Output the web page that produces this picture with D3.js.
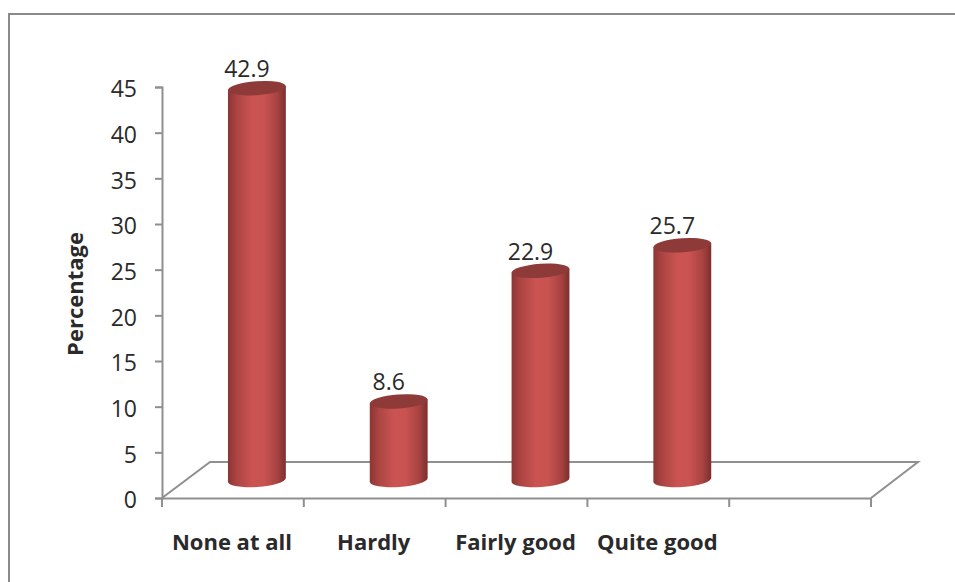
<!DOCTYPE html>
<html>
<head>
<meta charset="utf-8">
<script src="https://cdnjs.cloudflare.com/ajax/libs/d3/7.8.5/d3.min.js"></script>
<style>
  html, body { margin: 0; background: #fff; }
  svg { display: block; }
  text { font-family: "Open Sans", sans-serif; fill: #2a2a2a; }
</style>
</head>
<body>
<div id="chart"></div>
<script>
const categories = ["None at all", "Hardly", "Fairly good", "Quite good", ""];
const values = [42.9, 8.6, 22.9, 25.7];
const yTicks = [0, 5, 10, 15, 20, 25, 30, 35, 40, 45];

const width = 955, height = 582;
const plotLeft = 162, plotRight = 871, plotBottom = 498, plotTop = 87;
// floor depth of the 3d box
const depthX = 48, depthY = 36;
const grey = "#8f8f8f";

const x = d3.scaleBand().domain(categories).range([plotLeft, plotRight]);
const y = d3.scaleLinear().domain([0, 45]).range([plotBottom, plotTop]);

const svg = d3.select("#chart").append("svg")
    .attr("width", width)
    .attr("height", height);

// horizontal shading across the cylinder
const grad = svg.append("defs").append("linearGradient").attr("id", "barShade");
[[0, "#8b3533"], [0.15, "#ab4442"], [0.42, "#cb5452"], [0.62, "#c95351"], [0.85, "#a84341"], [1, "#7c2f2d"]]
  .forEach(s => grad.append("stop").attr("offset", s[0]).attr("stop-color", s[1]));

// outer frame, open on the right and bottom
svg.append("path")
    .attr("d", `M9,${height}V14H${width}`)
    .attr("fill", "none")
    .attr("stroke", "#8a8a8a")
    .attr("stroke-width", 2);

// floor
svg.append("path")
    .attr("d", d3.line()([
      [plotLeft, plotBottom],
      [plotLeft + depthX, plotBottom - depthY],
      [plotRight + depthX - 1, plotBottom - depthY],
      [plotRight, plotBottom]
    ]))
    .attr("fill", "none")
    .attr("stroke", grey)
    .attr("stroke-width", 2);

const yAxis = svg.append("g")
    .attr("transform", `translate(${plotLeft},0)`)
    .call(d3.axisLeft(y).tickValues(yTicks).tickSize(7).tickPadding(18));
yAxis.selectAll("path, line").attr("stroke", grey).attr("stroke-width", 2);
yAxis.selectAll("text")
    .style("font-size", "23px")
    .attr("dy", "0.42em")
    .attr("fill", "#2a2a2a");

const xAxis = svg.append("g")
    .attr("transform", `translate(0,${plotBottom})`)
    .call(d3.axisBottom(x).tickSize(0).tickPadding(36));
xAxis.select("path").attr("stroke", grey).attr("stroke-width", 2);
xAxis.selectAll("text")
    .style("font-size", "22px")
    .style("font-weight", "bold")
    .attr("dx", -1)
    .attr("fill", "#111");

// ticks sit on the band edges
svg.append("g").selectAll("line")
    .data(categories.concat("end"))
    .join("line")
    .attr("x1", (d, i) => plotLeft + i * x.step())
    .attr("x2", (d, i) => plotLeft + i * x.step())
    .attr("y1", plotBottom)
    .attr("y2", plotBottom + 9)
    .attr("stroke", grey)
    .attr("stroke-width", 2);

svg.append("text")
    .attr("transform", `translate(83,294) rotate(-90)`)
    .attr("text-anchor", "middle")
    .style("font-size", "22px")
    .style("font-weight", "bold")
    .attr("fill", "#111")
    .text("Percentage");

// cylinders
const rx = 29, ry = 7, tilt = -4;
const rad = tilt * Math.PI / 180;
const dropR = rx * Math.sin(rad), runR = rx * Math.cos(rad);

const bars = svg.append("g").selectAll("g")
    .data(values)
    .join("g")
    .attr("transform", (d, i) => `translate(${x(categories[i]) + x.bandwidth() / 2 + depthX / 2},${-depthY / 2})`);

bars.append("path")
    .attr("fill", "url(#barShade)")
    .attr("d", d => {
      const yt = y(d), yb = y(0);
      return `M${-runR},${yt - dropR}L${-runR},${yb - dropR}` +
        `A${rx},${ry} ${tilt} 0 0 ${runR},${yb + dropR}` +
        `L${runR},${yt + dropR}Z`;
    });

bars.append("ellipse")
    .attr("rx", rx)
    .attr("ry", ry)
    .attr("fill", "#8d3a38")
    .attr("transform", d => `translate(0,${y(d)}) rotate(${tilt})`);

bars.append("text")
    .attr("x", -10)
    .attr("y", d => y(d) - 11)
    .attr("text-anchor", "middle")
    .style("font-size", "23px")
    .text(d => d);
</script>
</body>
</html>
